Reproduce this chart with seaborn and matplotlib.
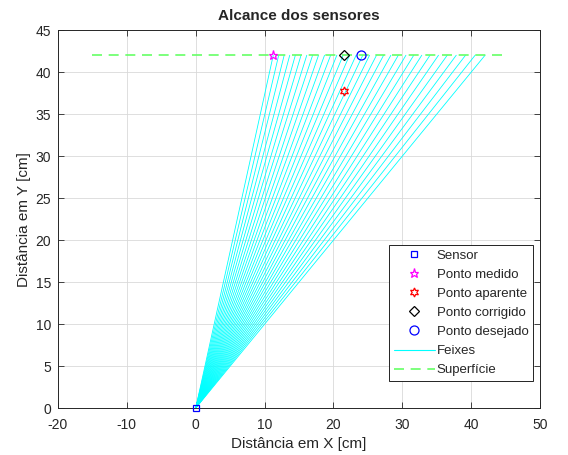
import numpy as np
import pandas as pd
import matplotlib
matplotlib.use("Agg")
import matplotlib.pyplot as plt
import seaborn as sns
from matplotlib.lines import Line2D

# ---- data ----
beam_angles_deg = [15, 16, 17, 18, 19, 20, 21, 22, 23, 24, 25, 26, 27, 28, 29, 30,
                   31, 32, 33, 34, 35, 36, 37, 38, 39, 40, 41, 42, 43, 44, 45]
surface_y = 42
surface_x = [-15, 45]
sensor = (0, 0)
ponto_medido = (11.25, 42)
ponto_aparente = (21.5, 37.7)
ponto_corrigido = (21.5, 42)
ponto_desejado = (24.0, 42)

x_ticks = [-20, -10, 0, 10, 20, 30, 40, 50]
y_ticks = [0, 5, 10, 15, 20, 25, 30, 35, 40, 45]

# ---- style ----
sns.set_theme(style="white")
plt.rcParams['font.family'] = ['Liberation Sans', 'DejaVu Sans']

fig = plt.figure(figsize=(5.68, 4.55), dpi=100)
ax = fig.add_axes([0.102, 0.103, 0.849, 0.831])

# beams
rows = []
for i, a in enumerate(beam_angles_deg):
    rows.append({"beam": i, "x": sensor[0], "y": sensor[1]})
    rows.append({"beam": i, "x": surface_y * np.tan(np.radians(a)), "y": surface_y})
beams = pd.DataFrame(rows)
sns.lineplot(data=beams, x="x", y="y", units="beam", estimator=None, sort=False,
             color=(0, 1, 1), linewidth=0.6, ax=ax, legend=False)

# surface
surf = pd.DataFrame({"x": surface_x, "y": [surface_y, surface_y]})
sns.lineplot(data=surf, x="x", y="y", color=(0.4, 1, 0.4), linewidth=1.2,
             linestyle=(0, (6, 4)), ax=ax, legend=False)

hexagram = (6, 1, 0)
styles = [
    dict(marker='s', color='blue', ms=4.5),
    dict(marker='*', color='magenta', ms=6.5),
    dict(marker=hexagram, color='red', ms=6.5),
    dict(marker='D', color='black', ms=5),
    dict(marker='o', color='blue', ms=6.5),
]
points = [sensor, ponto_medido, ponto_aparente, ponto_corrigido, ponto_desejado]
for p, st in zip(points, styles):
    ax.plot(p[0], p[1], mfc='none', mew=0.9, ls='none', clip_on=False, zorder=5, **st)

ax.set_xlim(-20, 50)
ax.set_ylim(0, 45)
ax.set_xticks(x_ticks)
ax.set_yticks(y_ticks)
ax.set_xticklabels([str(v) for v in x_ticks])
ax.set_yticklabels([str(v) for v in y_ticks])
ax.grid(True, color=(0.85, 0.85, 0.85), linewidth=0.6)
ax.set_axisbelow(True)
for s in ax.spines.values():
    s.set_color((0.15, 0.15, 0.15))
    s.set_linewidth(0.7)
ax.tick_params(direction='in', length=4, width=0.6, colors=(0.15, 0.15, 0.15),
               labelsize=10, top=True, right=True, bottom=True, left=True,
               labelcolor=(0.15, 0.15, 0.15))
ax.tick_params(axis='x', pad=7)
ax.tick_params(axis='y', pad=5)

ax.set_xlabel("Distância em X [cm]", fontsize=11, color=(0.15, 0.15, 0.15), labelpad=4)
ax.set_ylabel("Distância em Y [cm]", fontsize=11, color=(0.15, 0.15, 0.15), labelpad=3)
ax.set_title("Alcance dos sensores", fontsize=11, fontweight='bold', pad=7)

handles = [Line2D([], [], mfc='none', mew=0.9, ls='none', **st) for st in styles]
handles += [
    Line2D([], [], color=(0, 1, 1), lw=0.8),
    Line2D([], [], color=(0.4, 1, 0.4), lw=1.2, ls=(0, (6, 4))),
]
labels = ["Sensor", "Ponto medido", "Ponto aparente", "Ponto corrigido",
          "Ponto desejado", "Feixes", "Superfície"]
leg = ax.legend(handles, labels, loc='lower right', bbox_to_anchor=(0.985, 0.072),
                fontsize=9.5, frameon=True, fancybox=False, edgecolor='black',
                framealpha=1, borderpad=0.35, labelspacing=0.52, handlelength=3.1,
                handletextpad=0.15, borderaxespad=0)
leg.get_frame().set_linewidth(0.6)

fig.savefig("out.png", dpi=100, facecolor='white')
